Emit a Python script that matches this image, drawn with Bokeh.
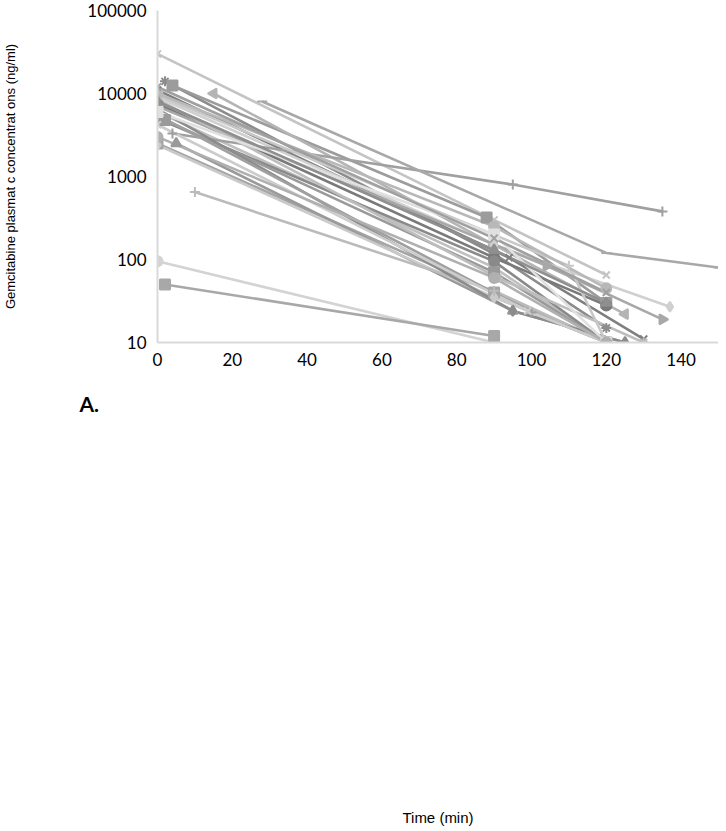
import math
from bokeh.plotting import figure
from bokeh.models import Range1d, FixedTicker, PrintfTickFormatter, Title, LinearAxis
from bokeh.embed import file_html
from bokeh.resources import INLINE

# ---- data: time (min) and gemcitabine concentration (ng/ml) per patient ----
t01 = [0, 90, 120];   c01 = [30000, 300, 65]
t02 = [2, 90, 120];   c02 = [14000, 117, 15]
t03 = [4, 88, 120];   c03 = [12500, 320, 30]
t04 = [0, 94, 130];   c04 = [11000, 105, 11]
t05 = [15, 90, 125];  c05 = [10000, 150, 22]
t06 = [0, 90, 137];   c06 = [9000, 150, 27]
t07 = [0, 90, 120];   c07 = [7500, 105, 28]
t08 = [0, 104, 135];  c08 = [7000, 84, 19]
t09 = [0, 90, 120];   c09 = [6000, 80, 10]
t10 = [0, 90, 120];   c10 = [5000, 95, 10]
t11 = [2, 90, 120];   c11 = [4800, 70, 10]
t12 = [4, 95, 135];   c12 = [3300, 800, 380]
t13 = [28, 120, 150]; c13 = [8000, 120, 80]
t14 = [0, 90, 120];   c14 = [2500, 40, 10]
t15 = [5, 95, 125];   c15 = [2500, 24, 10]
t16 = [0, 90, 120];   c16 = [2400, 35, 10]
t17 = [10, 90, 120];  c17 = [650, 42, 10]
t18 = [0, 90];        c18 = [95, 10]
t19 = [2, 90];        c19 = [50, 12]
t20 = [0, 91, 130];   c20 = [8500, 60, 10]
t21 = [0, 95, 125];   c21 = [6500, 24, 10]
t22 = [0, 100, 120];  c22 = [5500, 23, 10]
t23 = [0, 110, 120];  c23 = [9500, 84, 10]
t24 = [0, 99, 120];   c24 = [4200, 24, 10]
t25 = [0, 90, 120];   c25 = [10000, 250, 45]
t26 = [0, 90, 120];   c26 = [6000, 200, 10]
t27 = [0, 90, 120];   c27 = [8000, 130, 30]
t28 = [0, 90, 120];   c28 = [3000, 60, 10]
t29 = [0, 90, 120];   c29 = [12000, 180, 40]

x_ticks = [0, 20, 40, 60, 80, 100, 120, 140]
y_ticks = [10, 100, 1000, 10000, 100000]

# ---- styles (marker, colour, angle) ----
R = -math.pi / 2
L = math.pi / 2
styles = [
    ("x", "#c4c4c4", 0), ("asterisk", "#8c8c8c", 0), ("square", "#9c9c9c", 0),
    ("x", "#7f7f7f", 0), ("triangle", "#b4b4b4", L), ("diamond", "#d0d0d0", 0),
    ("circle", "#7a7a7a", 0), ("triangle", "#a8a8a8", R), ("cross", "#c0c0c0", 0),
    ("circle", "#8a8a8a", 0), ("square", "#9a9a9a", 0), ("cross", "#a0a0a0", 0),
    ("dash", "#a8a8a8", 0), ("square", "#a5a5a5", 0), ("triangle", "#9a9a9a", 0),
    ("diamond", "#cacaca", 0), ("cross", "#bbbbbb", 0), ("circle", "#d3d3d3", 0),
    ("square", "#a8a8a8", 0), ("asterisk", "#bdbdbd", 0), ("diamond", "#8c8c8c", 0),
    ("cross", "#a0a0a0", 0), ("cross", "#c8c8c8", 0), ("x", "#cccccc", 0),
    ("circle", "#b8b8b8", 0), ("square", "#e0e0e0", 0), ("triangle", "#8f8f8f", 0),
    ("circle", "#b0b0b0", 0), ("x", "#a0a0a0", 0),
]
series = [(t01, c01), (t02, c02), (t03, c03), (t04, c04), (t05, c05), (t06, c06),
          (t07, c07), (t08, c08), (t09, c09), (t10, c10), (t11, c11), (t12, c12),
          (t13, c13), (t14, c14), (t15, c15), (t16, c16), (t17, c17), (t18, c18),
          (t19, c19), (t20, c20), (t21, c21), (t22, c22), (t23, c23), (t24, c24),
          (t25, c25), (t26, c26), (t27, c27), (t28, c28), (t29, c29)]

p = figure(width=718, height=828, y_axis_type="log",
           x_range=Range1d(0, 150), y_range=Range1d(10, 100000),
           output_backend="svg", toolbar_location=None,
           min_border_left=147, min_border_top=10, min_border_right=0,
           min_border_bottom=470)
p.outline_line_color = None
p.xgrid.visible = False
p.ygrid.visible = False
p.background_fill_color = "white"

for (t, c), (mk, col, ang) in zip(series, styles):
    p.line(t, c, line_color=col, line_width=2.6)
for (t, c), (mk, col, ang) in zip(series, styles):
    p.scatter(t, c, marker=mk, size=10, angle=ang, fill_color=col,
              line_color=col, line_width=2)

for ax in (p.xaxis[0], p.yaxis[0]):
    ax.axis_line_color = "#d9d9d9"
    ax.axis_line_width = 2
    ax.major_tick_line_color = None
    ax.minor_tick_line_color = None
    ax.major_label_text_font = "Lato"
    ax.major_label_text_font_size = "17px"
    ax.major_label_text_color = "#000000"
    ax.axis_label_text_font = "Liberation Sans"
    ax.axis_label_text_font_style = "normal"
    ax.axis_label_text_color = "#000000"

p.xaxis.ticker = FixedTicker(ticks=x_ticks)
p.yaxis.ticker = FixedTicker(ticks=y_ticks)
p.yaxis.formatter = PrintfTickFormatter(format="%d")
p.xaxis.major_label_standoff = 4
p.yaxis.major_label_standoff = 5

p.yaxis.axis_label = "Gemcitabine plasmat c concentrat ons (ng/ml)"
p.yaxis.axis_label_text_font_size = "13px"
p.yaxis.axis_label_standoff = 66

panel_a = Title(text="A.", align="left", offset=-78, standoff=40,
                text_font="Lato", text_font_style="bold", text_font_size="21px",
                text_color="#000000")
p.add_layout(panel_a, "below")

time_axis = LinearAxis(ticker=FixedTicker(ticks=[]), axis_line_color=None,
                       major_tick_line_color=None, minor_tick_line_color=None,
                       major_label_text_font_size="0px",
                       axis_label="Time (min)", axis_label_standoff=373,
                       axis_label_text_font="Liberation Sans",
                       axis_label_text_font_style="normal",
                       axis_label_text_font_size="15px",
                       axis_label_text_color="#000000")
p.add_layout(time_axis, "below")

open("out.html", "w").write(file_html(p, INLINE))
